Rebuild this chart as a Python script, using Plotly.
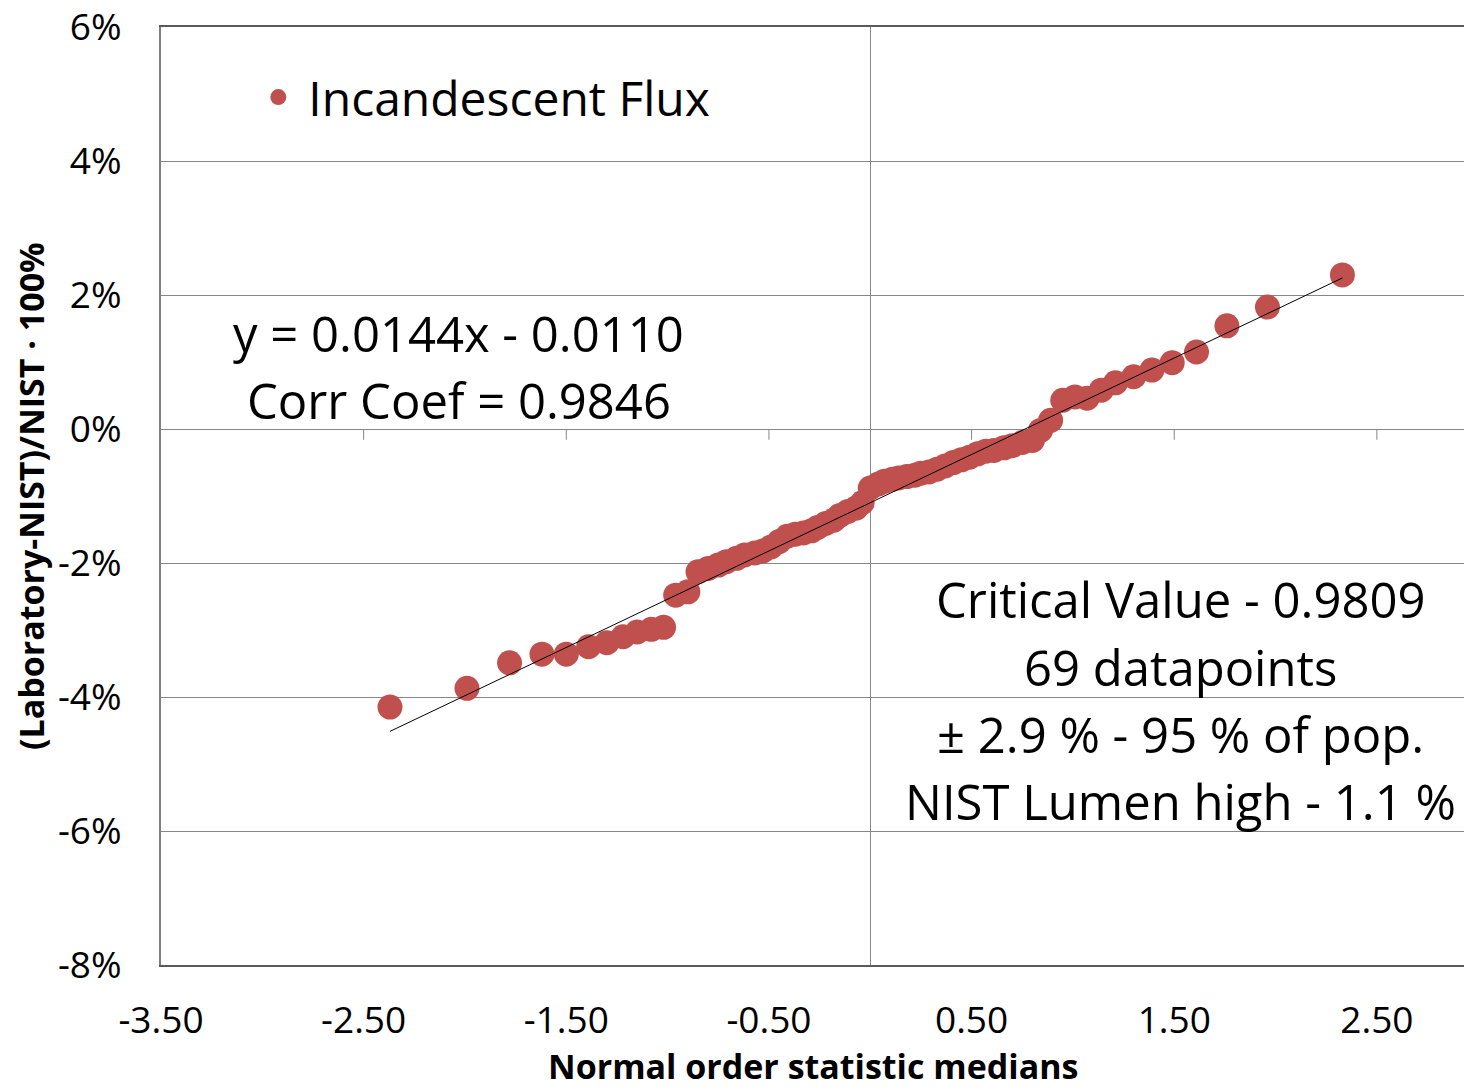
import plotly.graph_objects as go

# Normal order statistic medians (x) and relative flux difference (y, fraction)
norm_medians = [
    -2.37, -1.99, -1.78, -1.62, -1.50, -1.39, -1.30, -1.22, -1.15, -1.08,
    -1.02, -0.96, -0.90, -0.85, -0.80, -0.75, -0.71, -0.66, -0.62, -0.57,
    -0.53, -0.49, -0.45, -0.41, -0.37, -0.33, -0.29, -0.26, -0.22, -0.18,
    -0.15, -0.11, -0.07, -0.04, 0.00, 0.04, 0.07, 0.11, 0.14, 0.18,
    0.22, 0.25, 0.29, 0.33, 0.37, 0.41, 0.45, 0.49, 0.53, 0.57,
    0.61, 0.66, 0.70, 0.75, 0.80, 0.84, 0.89, 0.95, 1.01, 1.07,
    1.14, 1.21, 1.30, 1.39, 1.49, 1.61, 1.76, 1.96, 2.33,
]
flux_diff = [
    -0.0415, -0.0387, -0.0349, -0.0336, -0.0336, -0.0325, -0.0319, -0.0310, -0.0303, -0.0299,
    -0.0296, -0.0248, -0.0243, -0.0213, -0.0208, -0.0203, -0.0198, -0.0193, -0.0188, -0.0185,
    -0.0182, -0.0176, -0.0168, -0.0160, -0.0157, -0.0155, -0.0152, -0.0147, -0.0141, -0.0136,
    -0.0129, -0.0123, -0.0118, -0.0110, -0.0088, -0.0082, -0.0078, -0.0075, -0.0073, -0.0071,
    -0.0069, -0.0066, -0.0064, -0.0060, -0.0055, -0.0050, -0.0046, -0.0042, -0.0037, -0.0033,
    -0.0032, -0.0028, -0.0025, -0.0020, -0.0017, -0.0002, 0.0013, 0.0043, 0.0048, 0.0046,
    0.0058, 0.0069, 0.0078, 0.0088, 0.0099, 0.0115, 0.0154, 0.0182, 0.0230,
]

# Linear fit reported on the chart
fit_slope = 0.0144
fit_intercept = -0.0110
corr_coef = 0.9846

x_tick_vals = [-3.5, -2.5, -1.5, -0.5, 0.5, 1.5, 2.5]
x_tick_text = ["-3.50", "-2.50", "-1.50", "-0.50", "0.50", "1.50", "2.50"]
y_tick_vals = [-0.08, -0.06, -0.04, -0.02, 0.0, 0.02, 0.04, 0.06]
y_tick_text = ["-8%", "-6%", "-4%", "-2%", "0%", "2%", "4%", "6%"]

summary_lines = [
    "Critical Value - 0.9809",
    "69 datapoints",
    "± 2.9 % - 95 % of pop.",
    "NIST Lumen high - 1.1 %",
]

FONT = "Open Sans, Lato, DejaVu Sans, sans-serif"
POINT_COLOR = "#C0504D"
GRID = "#878787"

x_lo, x_hi = min(norm_medians), max(norm_medians)

fig = go.Figure()
fig.add_trace(go.Scatter(
    x=norm_medians, y=flux_diff, mode="markers", name="Incandescent Flux",
    marker=dict(color=POINT_COLOR, size=25, line=dict(width=0)),
))
fig.add_trace(go.Scatter(
    x=[x_lo, x_hi],
    y=[fit_slope * x_lo + fit_intercept, fit_slope * x_hi + fit_intercept],
    mode="lines", line=dict(color="black", width=1), showlegend=False,
    hoverinfo="skip",
))

# downward tick marks on the horizontal axis line at y = 0
for tv in x_tick_vals[1:]:
    fig.add_shape(type="line", xref="x", yref="y", x0=tv, x1=tv, y0=0, y1=-0.0016,
                  line=dict(color=GRID, width=1), layer="below")

# fit equation and correlation
fig.add_annotation(x=-2.03, y=0.0143, xref="x", yref="y", showarrow=False,
                   text=f"y = {fit_slope:.4f}x - {abs(fit_intercept):.4f}",
                   font=dict(family=FONT, size=49, color="black"))
fig.add_annotation(x=-2.03, y=0.0043, xref="x", yref="y", showarrow=False,
                   text=f"Corr Coef = {corr_coef:.4f}",
                   font=dict(family=FONT, size=49, color="black"))

# summary block
for k, line in enumerate(summary_lines):
    fig.add_annotation(x=1.53, y=-0.0254 - 0.01005 * k, xref="x", yref="y",
                       showarrow=False, text=line,
                       font=dict(family=FONT, size=49, color="black"))

# axis titles
fig.add_annotation(x=0.5, y=-0.1077, xref="paper", yref="paper", showarrow=False,
                   text="<b>Normal order statistic medians</b>",
                   xanchor="center", yanchor="middle",
                   font=dict(family=FONT, size=34, color="black"))
fig.add_annotation(x=-0.0997, y=0.5, xref="paper", yref="paper", showarrow=False,
                   text="<b>(Laboratory-NIST)/NIST · 100%</b>", textangle=-90,
                   xanchor="center", yanchor="middle",
                   font=dict(family=FONT, size=34, color="black"))

fig.update_layout(
    width=1464, height=1091,
    margin=dict(l=161, r=0, t=27, b=126),
    paper_bgcolor="white", plot_bgcolor="white",
    font=dict(family=FONT, color="black"),
    showlegend=True,
    legend=dict(x=0.067, y=0.925, xanchor="left", yanchor="middle",
                bgcolor="rgba(0,0,0,0)", font=dict(family=FONT, size=48),
                itemsizing="trace", itemwidth=50),
    xaxis=dict(
        range=[-3.5, 2.93], tickvals=x_tick_vals, ticktext=x_tick_text,
        tickfont=dict(family=FONT, size=37), ticks="", ticklabelstandoff=22,
        showgrid=False, zeroline=True, zerolinecolor=GRID, zerolinewidth=1,
        showline=True, linecolor="#5a5a5a", linewidth=2, mirror=True,
    ),
    yaxis=dict(
        range=[-0.08, 0.06001], tickvals=y_tick_vals, ticktext=y_tick_text,
        tickfont=dict(family=FONT, size=37), ticks="", ticklabelstandoff=30,
        showgrid=True, gridcolor=GRID, gridwidth=1,
        zeroline=True, zerolinecolor=GRID, zerolinewidth=1,
        showline=True, linecolor="#7f7f7f", linewidth=2, mirror=False,
    ),
)

fig.write_html("out.html")
